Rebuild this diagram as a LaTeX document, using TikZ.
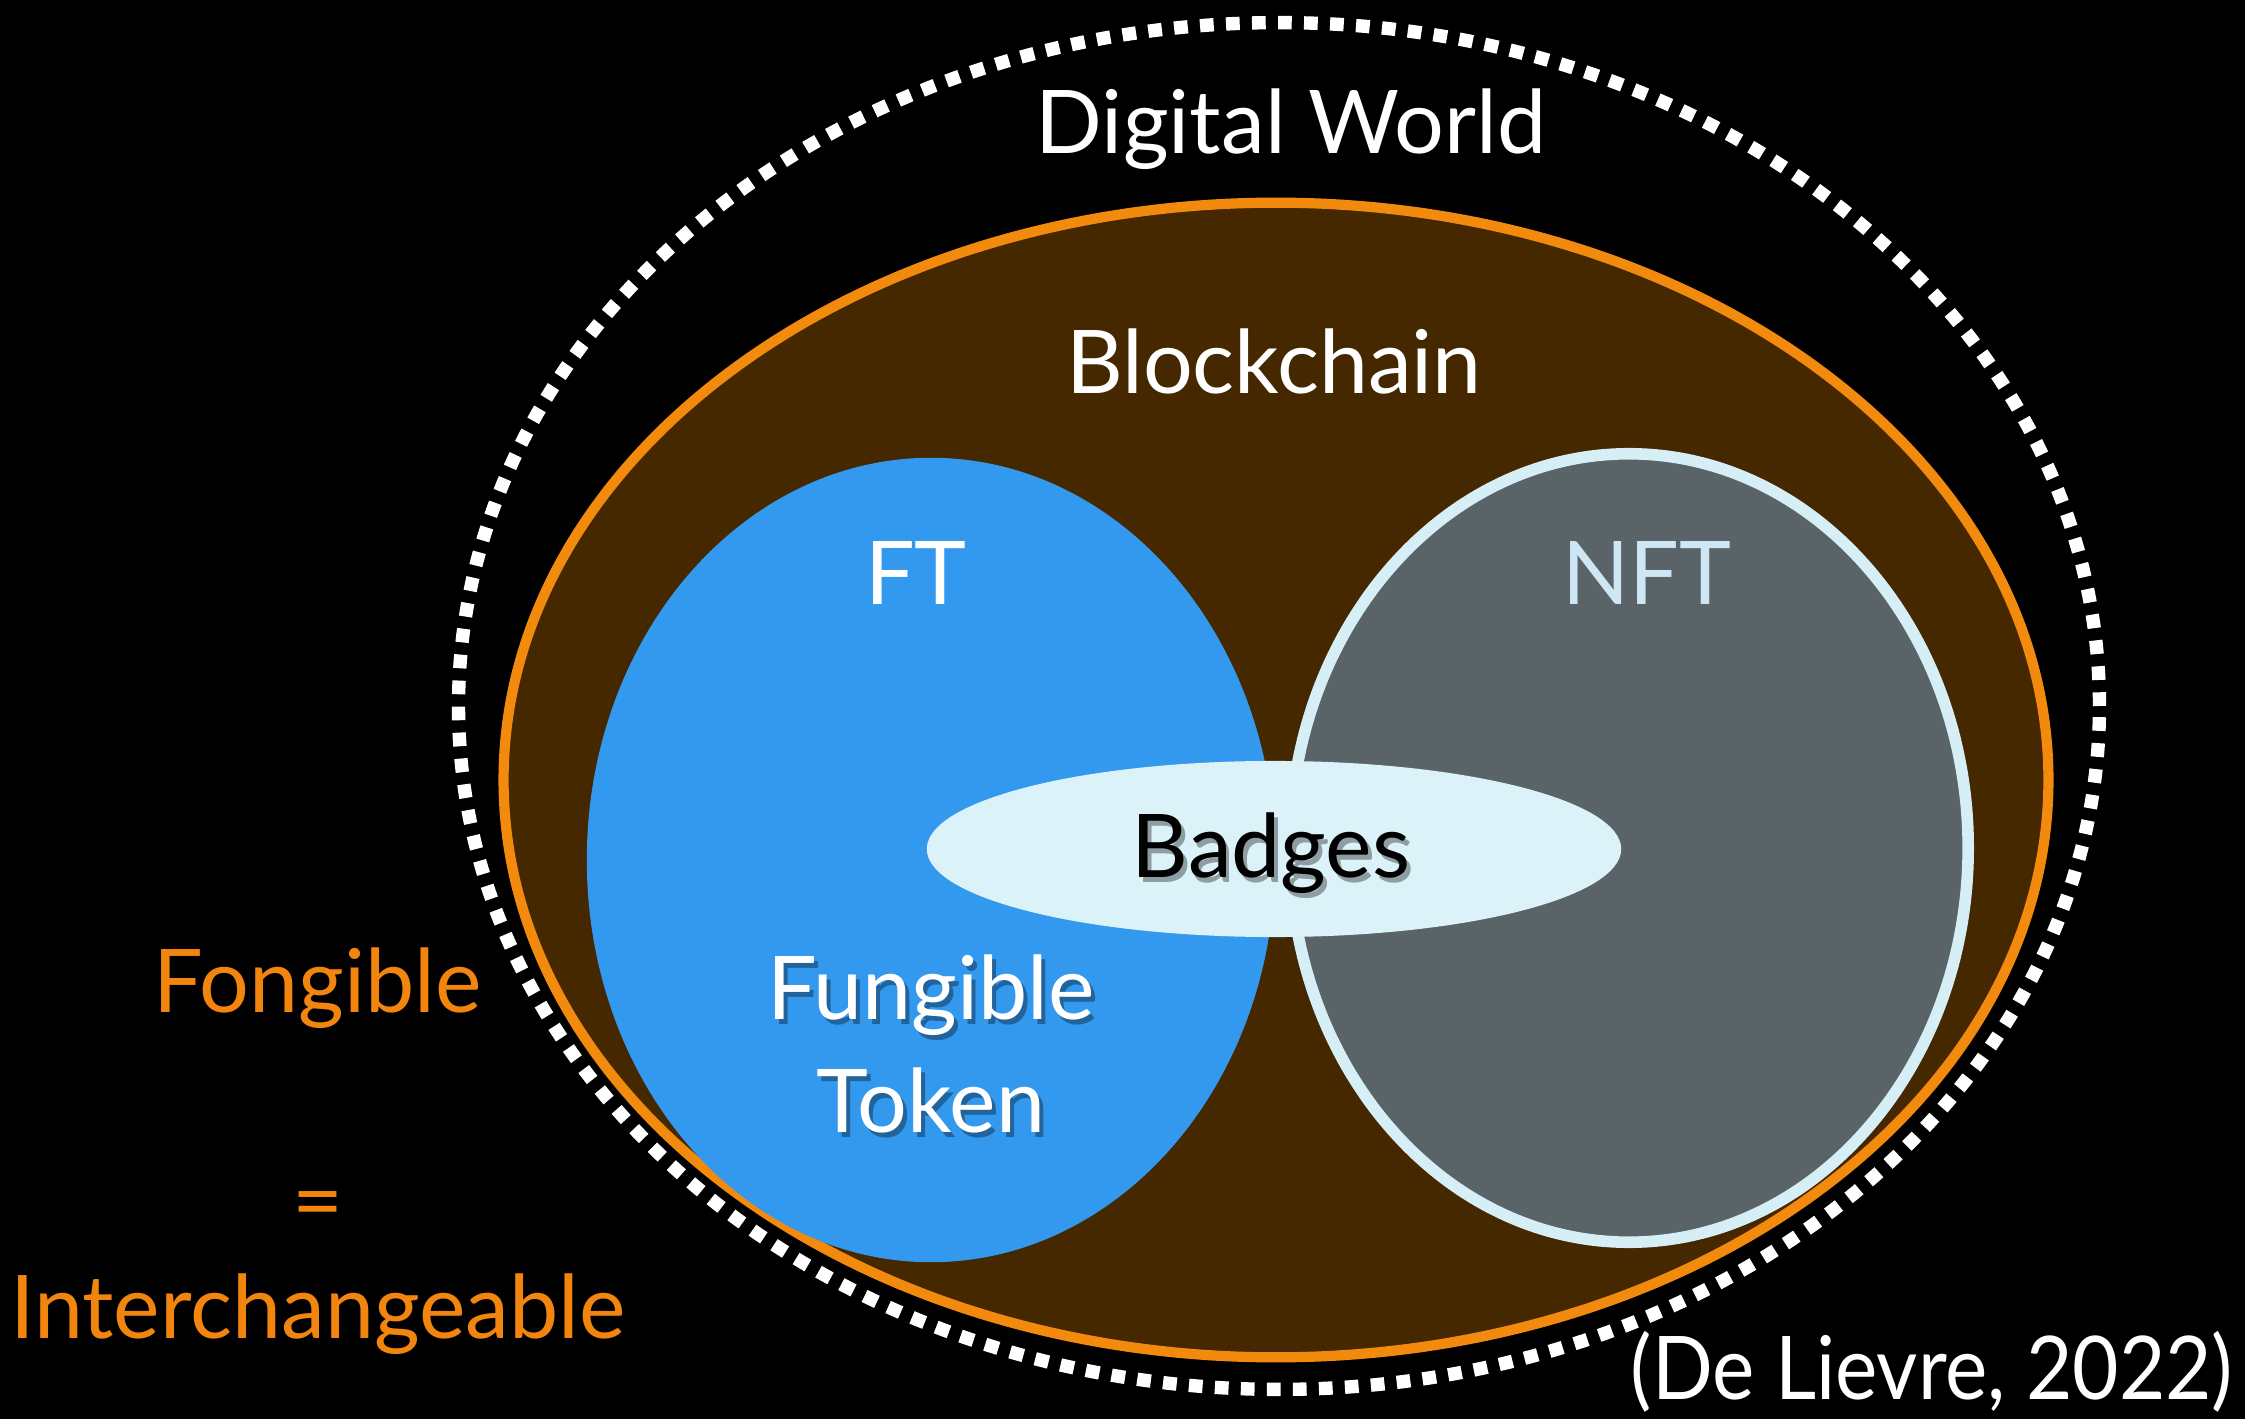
\documentclass[tikz,border=0pt]{standalone}
\usepackage{fontspec}
\setmainfont{Lato}
\usetikzlibrary{shapes.geometric}
\definecolor{bgbrown}{HTML}{452700}
\definecolor{ring}{HTML}{F28A0E}
\definecolor{ftblue}{HTML}{3399EE}
\definecolor{nftgrey}{HTML}{5A6468}
\definecolor{nftedge}{HTML}{D6EEF6}
\definecolor{badge}{HTML}{DBF2F8}
\definecolor{nfttext}{HTML}{CFE6F5}
\definecolor{orangetext}{HTML}{F2850E}
\tikzset{
  lbl/.style={font=\fontsize{25}{32}\selectfont, inner sep=0pt, align=center},
  blob/.style={ellipse, inner sep=0pt, outer sep=0pt},
  shadowtxt/.style={lbl, text=black, opacity=0.35},
}
\begin{document}
\begin{tikzpicture}[x=0.01cm,y=-0.01cm]
\fill[black] (0,0) rectangle (2245,1419);
\useasboundingbox (0,0) rectangle (2245,1419);
% Digital world dotted
\node[blob, draw=white, line width=3.8pt, dash pattern=on 3.9pt off 3.5pt,
  minimum width=16.4cm, minimum height=13.66cm] (world) at (1279,706) {};
% blockchain
\node[blob, draw=ring, fill=bgbrown, line width=2.9pt,
  minimum width=15.44cm, minimum height=11.54cm] (chain) at (1276,780) {};
% FT
\node[blob, fill=ftblue, minimum width=6.88cm, minimum height=8.04cm] (ft) at (931,860) {};
% NFT
\node[blob, fill=nftgrey, draw=nftedge, line width=3.3pt,
  minimum width=6.78cm, minimum height=7.88cm] (nft) at (1629,848) {};
% Badges
\node[blob, fill=badge, minimum width=6.94cm, minimum height=1.76cm] (badges) at (1274,849) {};

% labels
\node[lbl, text=white] (tworld) at (1291,129) {Digital World};
\node[lbl, text=white] (tchain) at (1274,361) {Blockchain};
\node[lbl, text=white] (tft) at (916,573) {FT};
\node[lbl, text=nfttext] (tnft) at (1647,573) {NFT};
\node[shadowtxt] at (1275,858) {Badges};
\node[lbl, text=black] (tbadges) at (1271,853) {Badges};
\node[shadowtxt] at (935,1049) {Fungible\\Token};
\node[lbl, text=white] (tfung) at (931,1044) {Fungible\\Token};
\node[lbl, text=orangetext] (tfong) at (318,988) {Fongible};
\node[lbl, text=orangetext] (teq) at (318,1212) {=};
\node[lbl, text=orangetext] (tinter) at (318,1314) {Interchangeable};
\node[lbl, text=white, anchor=east] (tcite) at (2234,1372) {\scalebox{0.91}[1]{(De Lievre, 2022)}};
\end{tikzpicture}
\end{document}
